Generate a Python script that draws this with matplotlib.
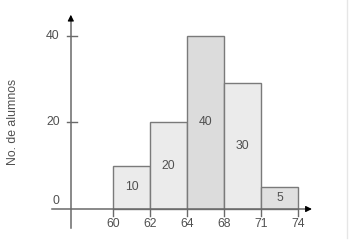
import numpy as np
import matplotlib
matplotlib.use("Agg")
import matplotlib.pyplot as plt

# data
edges = ["60", "62", "64", "68", "71", "74"]
heights = [10, 20, 40, 29, 5]
bar_labels = ["10", "20", "40", "30", "5"]
bar_colors = ["#ebebeb", "#ebebeb", "#dcdcdc", "#ebebeb", "#e0e0e0"]
y_ticks = [0, 20, 40]
y_label = "No. de alumnos"

plt.rcParams["font.family"] = ["Liberation Sans", "DejaVu Sans"]
TXT = "#505050"
AX = "#6a6a6a"
FS = 8.8

fig = plt.figure(figsize=(3.5, 2.44), dpi=100)
ax = fig.add_axes([0, 0, 1, 1])
ax.set_xlim(-3.054, 6.405)
ax.set_ylim(-8.08, 48.27)
ax.axis("off")

x = np.arange(len(heights))
ax.bar(x, heights, width=1, align="edge", color=bar_colors,
       edgecolor="#7a7a7a", linewidth=1.0, zorder=2)
for xi, h, lab in zip(x, heights, bar_labels):
    ax.text(xi + 0.5, h / 2, lab, ha="center", va="center",
            fontsize=FS, color=TXT, zorder=3)

# axes with arrows
y0 = -1.14
ax.plot([-1.65, 5.3], [0, 0], color=AX, lw=1.1, zorder=3)
ax.annotate("", xy=(5.45, 0), xytext=(5.2, 0),
            arrowprops=dict(arrowstyle="-|>", color="black", lw=0.8,
                            mutation_scale=9))
ax.plot([y0, y0], [-4.4, 44], color=AX, lw=1.1, zorder=3)
ax.annotate("", xy=(y0, 45.5), xytext=(y0, 43),
            arrowprops=dict(arrowstyle="-|>", color="black", lw=0.8,
                            mutation_scale=9))

# ticks
for i, lab in enumerate(edges):
    ax.plot([i, i], [0, -1.6], color=AX, lw=1.0, zorder=3)
    ax.text(i, -3.5, lab, ha="center", va="center", fontsize=FS, color=TXT)
for t in y_ticks:
    if t > 0:
        ax.plot([y0 - 0.11, y0 + 0.16], [t, t], color=AX, lw=1.0, zorder=3)
        ax.text(y0 - 0.3, t, str(t), ha="right", va="center",
                fontsize=FS, color=TXT)
    else:
        ax.text(y0 - 0.3, t + 1.9, str(t), ha="right", va="center",
                fontsize=FS, color=TXT)

ax.text(-2.7, 20, y_label, rotation=90, ha="center", va="center",
        fontsize=FS, color=TXT)

# light frame line on the right
fig.add_artist(plt.Line2D([0.991, 0.991], [0.025, 1.0], color="#e6e6e6",
                          lw=1.0, transform=fig.transFigure))

fig.savefig("out.png", dpi=100)
